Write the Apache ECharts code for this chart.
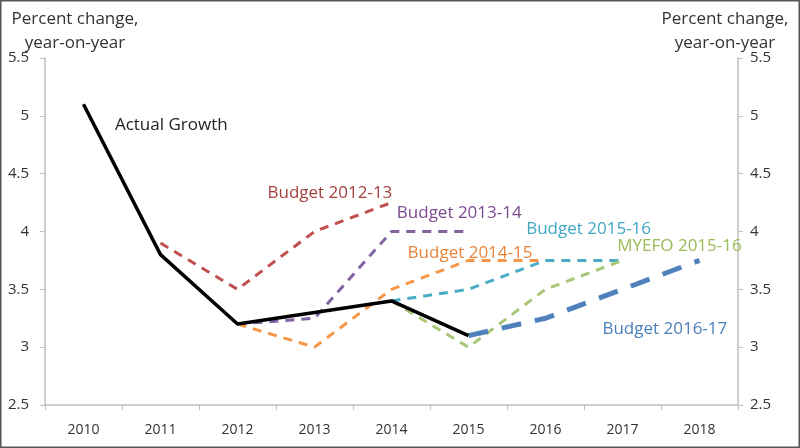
<!DOCTYPE html>
<html>
<head>
<meta charset="utf-8">
<script src="https://cdn.jsdelivr.net/npm/echarts@6/dist/echarts.min.js"></script>
<style>
  html, body { margin: 0; padding: 0; background: #fff; }
  #main { width: 800px; height: 448px; }
</style>
</head>
<body>
<div id="main"></div>
<script>
var years = ['2010', '2011', '2012', '2013', '2014', '2015', '2016', '2017', '2018'];

var actualGrowth = [5.1, 3.8, 3.2, 3.3, 3.4, 3.1, null, null, null];
var budget1213 = [null, 3.9, 3.5, 4.0, 4.25, null, null, null, null];
var budget1314 = [null, null, 3.2, 3.25, 4.0, 4.0, null, null, null];
var budget1415 = [null, null, 3.2, 3.0, 3.5, 3.75, 3.75, null, null];
var budget1516 = [null, null, null, null, 3.4, 3.5, 3.75, 3.75, null];
var myefo1516 = [null, null, null, null, 3.4, 3.0, 3.5, 3.75, null];
var budget1617 = [null, null, null, null, null, 3.1, 3.25, 3.5, 3.75];

// label anchors: [text, category index (fractional), value]
var labelText = ['Actual Growth', 'Budget 2012-13', 'Budget 2013-14', 'Budget 2014-15', 'Budget 2015-16', 'MYEFO 2015-16', 'Budget 2016-17'];
var labelX = [1.14, 3.2, 4.88, 5.02, 6.56, 7.74, 7.55];
var labelY = [4.92, 4.33, 4.16, 3.81, 4.02, 3.87, 3.16];
var labelColor = ['#222222', '#A5403C', '#7A4A8E', '#E8833A', '#3FA7C4', '#9BBB59', '#4A7EBB'];

var yTicks = [2.5, 3, 3.5, 4, 4.5, 5, 5.5];

var chart = echarts.init(document.getElementById('main'));

var fontFam = '"Open Sans", sans-serif';

function dashed(name, data, color, width, dash) {
    return {
        name: name,
        type: 'line',
        data: data,
        symbol: 'none',
        connectNulls: false,
        lineStyle: { color: color, width: width, type: dash },
        z: 2
    };
}

function yAxisCfg(pos, margin) {
    return {
        type: 'value',
        position: pos,
        min: 2.5,
        max: 5.5,
        interval: 0.5,
        axisLine: { show: true, lineStyle: { color: '#BFBFBF', width: 1.5 } },
        axisTick: { show: true, length: 5, lineStyle: { color: '#BFBFBF' } },
        splitLine: { show: false },
        axisLabel: {
            color: '#333',
            fontFamily: fontFam,
            fontSize: 15,
            margin: margin,
            formatter: function (v) {
                return yTicks.indexOf(v) >= 0 ? String(v) : '';
            }
        }
    };
}

optionLine = {
    animation: false,
    backgroundColor: '#fff',
    grid: { left: 45, right: 62, top: 58, bottom: 43, containLabel: false },
    xAxis: {
        type: 'category',
        data: years,
        boundaryGap: true,
        axisLine: { lineStyle: { color: '#BFBFBF', width: 1.5 } },
        axisTick: { show: true, length: 5, lineStyle: { color: '#BFBFBF' } },
        axisLabel: { color: '#333', fontFamily: fontFam, fontSize: 14, margin: 18 }
    },
    yAxis: [yAxisCfg('left', 16), yAxisCfg('right', 12)],
    series: [
        dashed('Budget 2012-13', budget1213, '#C0504D', 3, [9, 7]),
        dashed('Budget 2013-14', budget1314, '#8064A2', 3, [9, 7]),
        dashed('Budget 2014-15', budget1415, '#F79646', 3, [9, 7]),
        dashed('Budget 2015-16', budget1516, '#4BACC6', 3, [9, 7]),
        dashed('MYEFO 2015-16', myefo1516, '#A8C779', 3, [9, 7]),
        {
            name: 'Actual Growth',
            type: 'line',
            data: actualGrowth,
            symbol: 'none',
            lineStyle: { color: '#000', width: 3.5 },
            z: 3
        },
        dashed('Budget 2016-17', budget1617, '#4F81BD', 5, [20, 14])
    ]
};
chart.setOption(optionLine);

// category axis rounds fractional indexes, so interpolate between neighbours
function toPixel(xi, v) {
    var i0 = Math.floor(xi);
    var a = chart.convertToPixel({ gridIndex: 0 }, [i0, v]);
    var b = chart.convertToPixel({ gridIndex: 0 }, [i0 + 1, v]);
    return [a[0] + (b[0] - a[0]) * (xi - i0), a[1]];
}

var gr = [];
for (var i = 0; i < labelText.length; i++) {
    var p = toPixel(labelX[i], labelY[i]);
    gr.push({
        type: 'text',
        x: p[0],
        y: p[1],
        style: {
            text: labelText[i],
            fill: labelColor[i],
            font: '17px ' + fontFam,
            textAlign: 'center',
            textVerticalAlign: 'middle'
        },
        z: 10
    });
}
gr.push({
    type: 'text', x: 75, y: 31,
    style: { text: 'Percent change,\nyear-on-year', fill: '#333', font: '17px ' + fontFam, textAlign: 'center', textVerticalAlign: 'middle', lineHeight: 24 }
});
gr.push({
    type: 'text', x: 725, y: 31,
    style: { text: 'Percent change,\nyear-on-year', fill: '#333', font: '17px ' + fontFam, textAlign: 'center', textVerticalAlign: 'middle', lineHeight: 24 }
});
gr.push({
    type: 'rect', shape: { x: 0.75, y: 0.75, width: 798.5, height: 446.5 },
    style: { fill: 'none', stroke: '#555', lineWidth: 1.5 }, silent: true
});
chart.setOption({ graphic: gr });
</script>
</body>
</html>
